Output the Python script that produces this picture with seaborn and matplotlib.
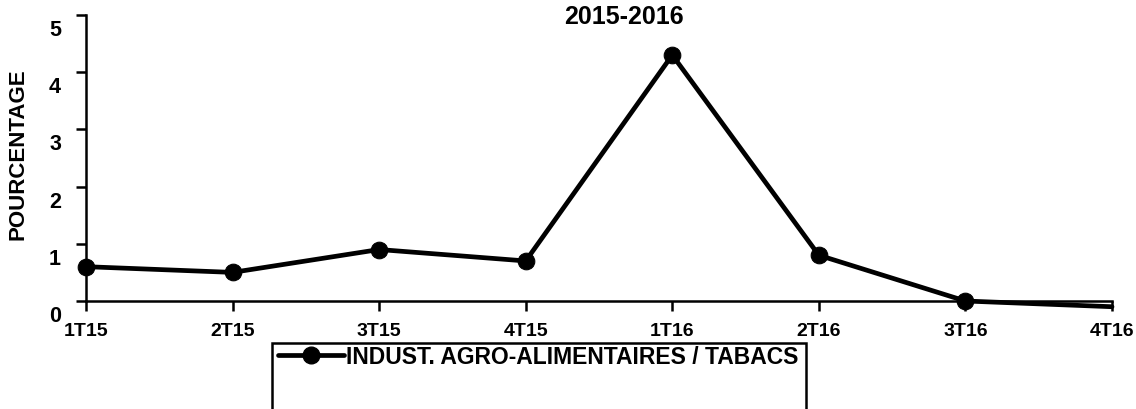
import matplotlib
matplotlib.use("Agg")
import matplotlib.pyplot as plt
import matplotlib.transforms as mtransforms
import seaborn as sns
import pandas as pd
from matplotlib.patches import Rectangle
from matplotlib.lines import Line2D

categories = ["1T15", "2T15", "3T15", "4T15", "1T16", "2T16", "3T16", "4T16"]
values = [0.6, 0.5, 0.9, 0.7, 4.3, 0.8, 0.0, -0.1]
series_name = "INDUST. AGRO-ALIMENTAIRES / TABACS"
title = "2015-2016"
ylabel = "POURCENTAGE"
yticks = [0, 1, 2, 3, 4, 5]

sns.set_theme(style="white")
plt.rcParams["font.family"] = ["Liberation Sans", "DejaVu Sans"]
plt.rcParams["font.weight"] = "bold"
plt.rcParams["text.color"] = "black"

df = pd.DataFrame({"cat": categories, "val": values})

fig = plt.figure(figsize=(11.36, 4.09), dpi=100)
ax = fig.add_axes([86/1136, 1-301/409, (1112-86)/1136, (301-15)/409])

sns.lineplot(data=df, x="cat", y="val", ax=ax, color="black", linewidth=3.4,
             marker="o", markersize=12, markeredgecolor="black",
             markevery=list(range(len(categories)-1)),
             clip_on=False, sort=False, legend=False)

ax.set_xlim(0, len(categories)-1)
ax.set_ylim(0, 5)
ax.set_yticks(yticks)
ax.set_yticklabels([str(t) for t in yticks], fontsize=15.5, fontweight="bold", color="black")
ax.set_xticks(range(len(categories)))
ax.set_xticklabels(categories, fontsize=14, fontweight="bold", color="black")
ax.set_xlabel("")
ax.set_ylabel("")

for s in ["top", "right"]:
    ax.spines[s].set_visible(False)
for s in ["left", "bottom"]:
    ax.spines[s].set_color("black")
    ax.spines[s].set_linewidth(1.8)
ax.tick_params(axis="both", which="both", direction="out", length=7, width=1.8,
               color="black", bottom=True, left=True, labelcolor="black")
ax.tick_params(axis="y", pad=11)
ax.tick_params(axis="x", pad=9)
ax.grid(False)

offset = mtransforms.ScaledTranslation(0, -13/100, fig.dpi_scale_trans)
for lab in ax.get_yticklabels():
    lab.set_transform(lab.get_transform() + offset)

fig.text(18/1136, 1-154/409, ylabel, rotation=90, ha="center", va="center",
         fontsize=16, fontweight="bold", color="black")
fig.text(624/1136, 1-17/409, title, ha="center", va="center",
         fontsize=18, fontweight="bold", color="black")

h = Line2D([], [], color="black", linewidth=3.4, marker="o", markersize=12)
leg = fig.legend([h], [series_name], loc="center", bbox_to_anchor=(538/1136, 1-357/409),
                 frameon=False, handlelength=2.9, handletextpad=0.05,
                 prop={"weight": "bold", "size": 16.5})
for t in leg.get_texts():
    t.set_color("black")
fig.patches.append(Rectangle((272/1136, -0.1), (806-272)/1136, (0.1 + 1-343/409),
                             transform=fig.transFigure, fill=False,
                             edgecolor="black", linewidth=1.8))

fig.savefig("out.png", dpi=100, facecolor="white")
